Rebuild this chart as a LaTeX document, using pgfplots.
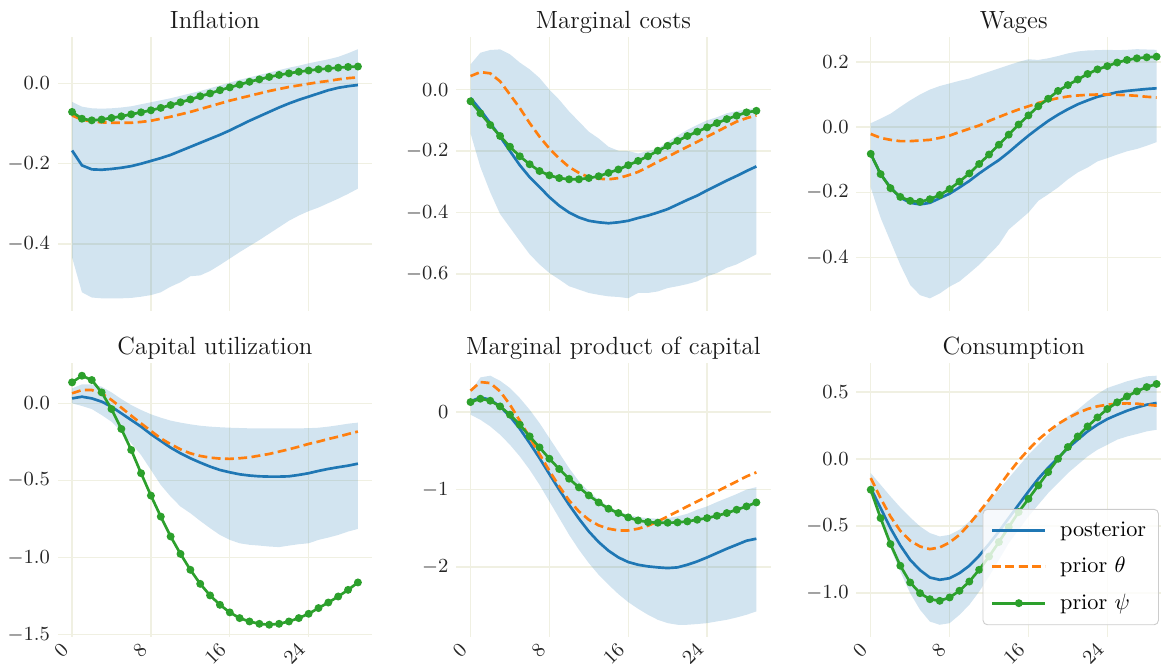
\documentclass[border=0pt]{standalone}
\usepackage{pgfplots}
\usepackage{pgfplotstable}
\pgfplotsset{compat=1.18}
\usepgfplotslibrary{fillbetween}
\definecolor{tabblue}{RGB}{31,119,180}
\definecolor{taborange}{RGB}{255,127,14}
\definecolor{tabgreen}{RGB}{44,160,44}
\definecolor{gridc}{RGB}{240,240,226}

\pgfplotstableread{
x lo hi post th psi
0 -0.433 -0.046 -0.167 -0.080 -0.071
1 -0.520 -0.058 -0.204 -0.090 -0.088
2 -0.533 -0.062 -0.214 -0.095 -0.092
3 -0.535 -0.063 -0.215 -0.097 -0.090
4 -0.535 -0.062 -0.213 -0.098 -0.086
5 -0.535 -0.060 -0.210 -0.098 -0.082
6 -0.534 -0.057 -0.206 -0.098 -0.077
7 -0.531 -0.052 -0.200 -0.096 -0.072
8 -0.527 -0.047 -0.193 -0.093 -0.067
9 -0.520 -0.042 -0.186 -0.088 -0.061
10 -0.506 -0.037 -0.178 -0.083 -0.054
11 -0.495 -0.031 -0.168 -0.077 -0.047
12 -0.480 -0.025 -0.158 -0.071 -0.040
13 -0.478 -0.019 -0.148 -0.064 -0.032
14 -0.467 -0.012 -0.138 -0.057 -0.025
15 -0.452 -0.005 -0.128 -0.050 -0.017
16 -0.436 0.002 -0.117 -0.043 -0.010
17 -0.420 0.009 -0.105 -0.037 -0.003
18 -0.405 0.015 -0.093 -0.031 0.004
19 -0.390 0.021 -0.082 -0.025 0.010
20 -0.374 0.027 -0.071 -0.019 0.016
21 -0.358 0.033 -0.060 -0.014 0.021
22 -0.342 0.039 -0.050 -0.009 0.025
23 -0.329 0.044 -0.041 -0.005 0.029
24 -0.318 0.050 -0.033 -0.001 0.032
25 -0.309 0.055 -0.025 0.003 0.035
26 -0.298 0.060 -0.017 0.006 0.037
27 -0.287 0.066 -0.011 0.010 0.039
28 -0.275 0.075 -0.007 0.013 0.041
29 -0.262 0.085 -0.004 0.015 0.042
}\tabInfl

\pgfplotstableread{
x lo hi post th psi
0 -0.142 0.082 -0.027 0.044 -0.038
1 -0.252 0.120 -0.066 0.057 -0.077
2 -0.334 0.129 -0.109 0.053 -0.115
3 -0.405 0.131 -0.153 0.027 -0.151
4 -0.449 0.115 -0.200 -0.016 -0.186
5 -0.493 0.088 -0.246 -0.060 -0.217
6 -0.536 0.066 -0.285 -0.109 -0.243
7 -0.569 0.038 -0.317 -0.153 -0.265
8 -0.597 0.000 -0.350 -0.192 -0.279
9 -0.618 -0.033 -0.378 -0.224 -0.288
10 -0.640 -0.071 -0.400 -0.252 -0.292
11 -0.651 -0.104 -0.416 -0.271 -0.292
12 -0.662 -0.137 -0.427 -0.285 -0.288
13 -0.668 -0.159 -0.432 -0.290 -0.282
14 -0.673 -0.186 -0.435 -0.292 -0.271
15 -0.675 -0.199 -0.432 -0.288 -0.260
16 -0.679 -0.200 -0.427 -0.279 -0.246
17 -0.662 -0.208 -0.418 -0.268 -0.232
18 -0.662 -0.200 -0.410 -0.252 -0.217
19 -0.657 -0.192 -0.400 -0.235 -0.199
20 -0.646 -0.170 -0.389 -0.219 -0.183
21 -0.640 -0.150 -0.374 -0.202 -0.167
22 -0.633 -0.131 -0.359 -0.186 -0.151
23 -0.624 -0.115 -0.345 -0.170 -0.137
24 -0.608 -0.100 -0.328 -0.153 -0.123
25 -0.597 -0.090 -0.312 -0.137 -0.109
26 -0.580 -0.077 -0.296 -0.120 -0.096
27 -0.569 -0.070 -0.281 -0.104 -0.085
28 -0.553 -0.064 -0.265 -0.093 -0.074
29 -0.536 -0.060 -0.250 -0.084 -0.069
}\tabMC

\pgfplotstableread{
x lo hi post th psi
0 -0.185 0.012 -0.082 -0.021 -0.082
1 -0.278 0.026 -0.144 -0.033 -0.144
2 -0.350 0.041 -0.185 -0.039 -0.187
3 -0.422 0.062 -0.216 -0.043 -0.214
4 -0.484 0.082 -0.232 -0.043 -0.226
5 -0.515 0.100 -0.237 -0.041 -0.229
6 -0.525 0.115 -0.232 -0.039 -0.221
7 -0.510 0.126 -0.218 -0.033 -0.208
8 -0.489 0.134 -0.204 -0.026 -0.190
9 -0.473 0.142 -0.185 -0.015 -0.167
10 -0.448 0.149 -0.165 -0.005 -0.142
11 -0.422 0.160 -0.142 0.005 -0.113
12 -0.391 0.170 -0.121 0.019 -0.084
13 -0.360 0.180 -0.101 0.031 -0.054
14 -0.314 0.190 -0.077 0.043 -0.023
15 -0.288 0.200 -0.051 0.054 0.008
16 -0.262 0.208 -0.026 0.064 0.036
17 -0.226 0.206 -0.003 0.074 0.064
18 -0.206 0.211 0.019 0.082 0.087
19 -0.185 0.218 0.038 0.089 0.111
20 -0.160 0.226 0.055 0.094 0.129
21 -0.139 0.232 0.070 0.097 0.146
22 -0.124 0.235 0.082 0.099 0.163
23 -0.105 0.236 0.093 0.100 0.177
24 -0.095 0.237 0.100 0.100 0.187
25 -0.084 0.236 0.107 0.099 0.198
26 -0.074 0.237 0.111 0.098 0.206
27 -0.067 0.239 0.114 0.096 0.211
28 -0.057 0.238 0.117 0.093 0.214
29 -0.046 0.237 0.119 0.091 0.216
}\tabWage

\pgfplotstableread{
x lo hi post th psi
0 0.000 0.097 0.032 0.065 0.136
1 -0.017 0.123 0.043 0.086 0.179
2 -0.037 0.123 0.032 0.086 0.151
3 -0.076 0.108 0.011 0.065 0.071
4 -0.119 0.071 -0.022 0.022 -0.037
5 -0.183 0.028 -0.065 -0.028 -0.166
6 -0.259 -0.011 -0.108 -0.080 -0.302
7 -0.335 -0.043 -0.151 -0.130 -0.453
8 -0.432 -0.071 -0.200 -0.179 -0.598
9 -0.529 -0.093 -0.244 -0.227 -0.734
10 -0.604 -0.112 -0.287 -0.265 -0.863
11 -0.669 -0.125 -0.324 -0.298 -0.976
12 -0.712 -0.136 -0.356 -0.324 -1.079
13 -0.762 -0.145 -0.384 -0.341 -1.170
14 -0.809 -0.151 -0.410 -0.352 -1.245
15 -0.853 -0.155 -0.432 -0.358 -1.306
16 -0.885 -0.158 -0.447 -0.360 -1.355
17 -0.907 -0.160 -0.460 -0.356 -1.392
18 -0.917 -0.162 -0.468 -0.350 -1.414
19 -0.922 -0.162 -0.473 -0.339 -1.429
20 -0.928 -0.162 -0.475 -0.328 -1.435
21 -0.932 -0.162 -0.475 -0.313 -1.429
22 -0.922 -0.162 -0.473 -0.298 -1.414
23 -0.913 -0.162 -0.464 -0.281 -1.392
24 -0.907 -0.161 -0.453 -0.263 -1.364
25 -0.885 -0.158 -0.438 -0.248 -1.327
26 -0.870 -0.151 -0.425 -0.231 -1.291
27 -0.853 -0.142 -0.414 -0.216 -1.252
28 -0.831 -0.132 -0.404 -0.199 -1.209
29 -0.814 -0.125 -0.391 -0.183 -1.161
}\tabCU

\pgfplotstableread{
x lo hi post th psi
0 -0.034 0.267 0.138 0.275 0.129
1 -0.099 0.447 0.189 0.387 0.172
2 -0.185 0.469 0.159 0.374 0.146
3 -0.292 0.404 0.073 0.267 0.073
4 -0.422 0.310 -0.056 0.095 -0.034
5 -0.572 0.181 -0.215 -0.112 -0.163
6 -0.744 0.030 -0.400 -0.327 -0.314
7 -0.938 -0.142 -0.594 -0.542 -0.456
8 -1.153 -0.335 -0.800 -0.757 -0.602
9 -1.368 -0.529 -1.002 -0.959 -0.735
10 -1.583 -0.723 -1.196 -1.140 -0.860
11 -1.776 -0.895 -1.376 -1.282 -0.972
12 -1.948 -1.024 -1.540 -1.389 -1.075
13 -2.099 -1.131 -1.677 -1.462 -1.166
14 -2.228 -1.217 -1.789 -1.505 -1.247
15 -2.348 -1.282 -1.875 -1.527 -1.303
16 -2.452 -1.325 -1.935 -1.527 -1.359
17 -2.538 -1.355 -1.970 -1.505 -1.398
18 -2.615 -1.368 -1.991 -1.467 -1.419
19 -2.680 -1.376 -2.004 -1.411 -1.428
20 -2.723 -1.368 -2.013 -1.346 -1.428
21 -2.744 -1.346 -2.004 -1.282 -1.424
22 -2.744 -1.312 -1.970 -1.217 -1.411
23 -2.735 -1.260 -1.927 -1.153 -1.389
24 -2.723 -1.217 -1.875 -1.088 -1.368
25 -2.701 -1.161 -1.819 -1.024 -1.338
26 -2.680 -1.110 -1.763 -0.959 -1.303
27 -2.650 -1.058 -1.712 -0.895 -1.260
28 -2.615 -1.000 -1.660 -0.830 -1.217
29 -2.572 -0.968 -1.634 -0.778 -1.166
}\tabMPK

\pgfplotstableread{
x lo hi post th psi
0 -0.267 -0.105 -0.217 -0.142 -0.229
1 -0.466 -0.192 -0.366 -0.292 -0.441
2 -0.665 -0.279 -0.516 -0.429 -0.635
3 -0.840 -0.361 -0.645 -0.536 -0.797
4 -1.002 -0.436 -0.753 -0.610 -0.922
5 -1.126 -0.503 -0.830 -0.653 -1.002
6 -1.214 -0.553 -0.885 -0.673 -1.047
7 -1.238 -0.578 -0.902 -0.660 -1.059
8 -1.226 -0.566 -0.890 -0.623 -1.034
9 -1.164 -0.528 -0.852 -0.566 -0.984
10 -1.089 -0.466 -0.797 -0.486 -0.915
11 -0.990 -0.391 -0.722 -0.396 -0.827
12 -0.877 -0.316 -0.635 -0.304 -0.728
13 -0.753 -0.229 -0.541 -0.204 -0.620
14 -0.628 -0.142 -0.441 -0.105 -0.508
15 -0.528 -0.055 -0.341 -0.012 -0.396
16 -0.429 0.032 -0.242 0.070 -0.297
17 -0.341 0.107 -0.147 0.145 -0.197
18 -0.254 0.182 -0.065 0.207 -0.097
19 -0.179 0.257 0.007 0.262 0.002
20 -0.105 0.319 0.082 0.307 0.090
21 -0.042 0.369 0.145 0.344 0.169
22 0.020 0.431 0.207 0.374 0.244
23 0.070 0.486 0.257 0.394 0.311
24 0.107 0.531 0.299 0.406 0.374
25 0.145 0.556 0.331 0.414 0.424
26 0.169 0.581 0.361 0.416 0.468
27 0.187 0.600 0.386 0.414 0.506
28 0.207 0.618 0.406 0.406 0.538
29 0.219 0.623 0.419 0.399 0.561
}\tabCons

\pgfplotsset{
  panel/.style={
    scale only axis, width=141.5pt, height=123.3pt,
    anchor=north west,
    xmin=-1.45, xmax=30.45,
    xtick={0,8,16,24},
    grid=major, major grid style={color=gridc, line width=0.6pt},
    axis line style={draw=none}, major tick length=0pt,
    tick label style={font=\fontsize{9.5}{11}\selectfont, color=black!85},
    title style={font=\fontsize{11.2}{13}\selectfont, color=black!90, anchor=base, yshift=-2.2pt},
    yticklabel style={/pgf/number format/fixed, /pgf/number format/fixed zerofill, /pgf/number format/precision=1},
    scaled y ticks=false,
    clip=true,
  },
  toprow/.style={xticklabels={}},
  botrow/.style={xticklabel style={xshift=-5.3pt, yshift=-1.8pt, rotate=45, anchor=north east, inner sep=0pt}},
  bandst/.style={fill=tabblue, fill opacity=0.2, draw=none, forget plot},
  postst/.style={color=tabblue, line width=1.2pt, no markers},
  thst/.style={color=taborange, line width=1.2pt, dash pattern=on 4pt off 2pt, no markers},
  psist/.style={color=tabgreen, line width=1.2pt, mark=*, mark size=1.15pt, mark options={solid, fill=tabgreen, draw=tabgreen}},
}

\newcommand{\panelplots}[2]{%
  \addplot[name path=hi#2, draw=none, forget plot] table[x=x, y=hi]{#1};
  \addplot[name path=lo#2, draw=none, forget plot] table[x=x, y=lo]{#1};
  \addplot[bandst] fill between[of=hi#2 and lo#2];
  \addplot[postst] table[x=x, y=post]{#1};
  \addplot[thst] table[x=x, y=th]{#1};
  \addplot[psist] table[x=x, y=psi]{#1};
}

\begin{document}
\begin{tikzpicture}
% top row
\begin{axis}[panel, toprow, at={(26pt,281.8pt)}, title={Inflation},
  ymin=-0.566, ymax=0.116, ytick={-0.4,-0.2,0}]
\panelplots{\tabInfl}{a}
\end{axis}
\begin{axis}[panel, toprow, at={(205.3pt,281.8pt)}, title={Marginal costs},
  ymin=-0.72, ymax=0.172, ytick={-0.6,-0.4,-0.2,0}]
\panelplots{\tabMC}{b}
\end{axis}
\begin{axis}[panel, toprow, at={(385.4pt,281.8pt)}, title={Wages},
  ymin=-0.563, ymax=0.277, ytick={-0.4,-0.2,0,0.2}]
\panelplots{\tabWage}{c}
\end{axis}
% bottom row
\begin{axis}[panel, botrow, at={(26pt,134.9pt)}, title={Capital utilization},
  ymin=-1.516, ymax=0.26, ytick={-1.5,-1,-0.5,0}]
\panelplots{\tabCU}{d}
\end{axis}
\begin{axis}[panel, botrow, at={(205.3pt,134.9pt)}, title={Marginal product of capital},
  ymin=-2.905, ymax=0.63, ytick={-2,-1,0},
  yticklabel style={/pgf/number format/fixed zerofill=false}]
\panelplots{\tabMPK}{e}
\end{axis}
\begin{axis}[panel, botrow, at={(385.4pt,134.9pt)}, title={Consumption},
  ymin=-1.331, ymax=0.716, ytick={-1,-0.5,0,0.5},
  legend style={at={(1,0)}, anchor=south east, xshift=-5.4pt, yshift=5.4pt,
    font=\fontsize{10}{12}\selectfont, draw=black!20, rounded corners=2pt,
    fill=white, fill opacity=0.8, text opacity=1, draw opacity=1,
    inner xsep=3.5pt, inner ysep=3.5pt, row sep=4pt,
    /tikz/every odd column/.append style={column sep=4pt}},
  legend cell align=left,
  legend image code/.code={\draw[mark repeat=2, mark phase=2, #1] plot coordinates {(0pt,0pt) (12pt,0pt) (24pt,0pt)};}]
\panelplots{\tabCons}{f}
\legend{posterior, prior $\theta$, prior $\psi$}
\end{axis}
\pgfresetboundingbox
\useasboundingbox (0,0) rectangle (522.45pt,298.35pt);
\end{tikzpicture}
\end{document}
